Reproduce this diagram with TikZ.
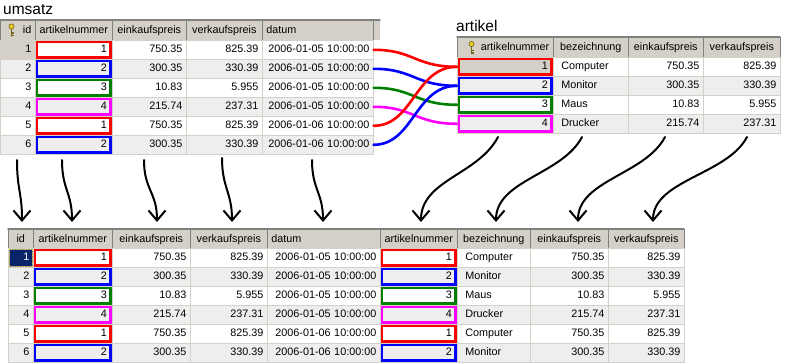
\documentclass[tikz,border=0pt]{standalone}
\usepackage{fontspec}
\setmainfont{Liberation Sans}
\usetikzlibrary{arrows.meta}

\definecolor{hdrgray}{RGB}{212,208,200}
\definecolor{hdrdark}{RGB}{128,128,128}
\definecolor{gridgray}{RGB}{212,208,200}
\definecolor{rowgray}{RGB}{238,238,238}
\definecolor{selblue}{RGB}{10,36,106}
\definecolor{keyyellow}{RGB}{236,204,40}
\definecolor{keyolive}{RGB}{110,100,20}
\definecolor{k1}{RGB}{255,0,0}
\definecolor{k2}{RGB}{0,0,255}
\definecolor{k3}{RGB}{0,128,0}
\definecolor{k4}{RGB}{255,0,255}

\begin{document}
\begin{tikzpicture}[x=1pt,y=-1pt,line cap=round,line join=round,
  every node/.style={inner sep=0pt,font=\fontsize{10.8}{12}\selectfont},
  cell/.style={draw=gridgray,line width=0.6pt,anchor=north west,inner xsep=4pt,
    minimum height=19pt,text height=7.8pt,text depth=2pt,align=right},
  hcell/.style={cell,fill=hdrgray,draw=hdrdark,minimum height=20pt,align=center},
  kbox/.style={draw=#1,line width=2.8pt,line cap=butt,line join=miter},
  link/.style={draw=#1,line width=2.6pt},
  hand/.style={line width=2pt,-{Straight Barb[length=10pt,width=17pt]}},
  titel/.style={anchor=base west,font=\fontsize{15.5}{18}\selectfont}]
  \useasboundingbox (0,0) rectangle (785,364);

  % umsatz
  \node[titel] (t-u) at (3,14) {umsatz};
  \fill[hdrgray] (373,20) rectangle (380,40);
  \foreach \lab/\x/\w/\al [count=\c] in {%
    id/0/35/right,%
    artikelnummer/35/77/center,%
    einkaufspreis/112/74/center,%
    verkaufspreis/186/76/center,%
    datum/262/111/left%
  } {
    \pgfmathsetmacro\tw{\w-8}
    \node[hcell,text width=\tw pt,align=\al] (u-h\c) at (\x,20) {\lab};
  }
  \foreach \nr/\ek/\vk/\dt [count=\r] in {%
    1/750.35/825.39/2006-01-05 10:00:00,%
    2/300.35/330.39/2006-01-05 10:00:00,%
    3/10.83/5.955/2006-01-05 10:00:00,%
    4/215.74/237.31/2006-01-05 10:00:00,%
    1/750.35/825.39/2006-01-06 10:00:00,%
    2/300.35/330.39/2006-01-06 10:00:00%
  } {
    \pgfmathsetmacro\y{40+19*(\r-1)}
    \ifodd\r \def\bg{white}\else\def\bg{rowgray}\fi
    \ifnum\r=1 \def\bgid{hdrgray}\else\let\bgid\bg\fi
    \node[cell,fill=\bgid,text width=27pt] (u\r-id) at (0,\y) {\r};
    \node[cell,fill=\bg,inner xsep=5.5pt,text width=66pt] (u\r-nr) at (35,\y) {\nr};
    \draw[kbox=k\nr] ([shift={(2,2)}]u\r-nr.north west) rectangle ([shift={(-2,-2)}]u\r-nr.south east);
    \node[cell,fill=\bg,text width=66pt] (u\r-ek) at (112,\y) {\ek};
    \node[cell,fill=\bg,text width=68pt] (u\r-vk) at (186,\y) {\vk};
    \node[cell,fill=\bg,text width=103pt] (u\r-dt) at (262,\y) {\dt};
  }
  \draw[hdrdark,line width=1.4pt] (0,20) -- (380,20);

  % artikel
  \node[titel] (t-a) at (456,31) {artikel};
  \foreach \lab/\x/\w/\al [count=\c] in {%
    artikelnummer/457/96/right,%
    bezeichnung/553/75/center,%
    einkaufspreis/628/75/center,%
    verkaufspreis/703/77/center%
  } {
    \pgfmathsetmacro\tw{\w-8}
    \node[hcell,text width=\tw pt,align=\al] (a-h\c) at (\x,37) {\lab};
  }
  \foreach \bz/\ek/\vk [count=\r] in {%
    Computer/750.35/825.39,%
    Monitor/300.35/330.39,%
    Maus/10.83/5.955,%
    Drucker/215.74/237.31%
  } {
    \pgfmathsetmacro\y{57+19*(\r-1)}
    \ifodd\r \def\bg{white}\else\def\bg{rowgray}\fi
    \ifnum\r=1 \def\bgnr{hdrgray}\else\let\bgnr\bg\fi
    \node[cell,fill=\bgnr,inner xsep=5.5pt,text width=85pt] (a\r-nr) at (457,\y) {\r};
    \draw[kbox=k\r] ([shift={(2,2)}]a\r-nr.north west) rectangle ([shift={(-2,-2)}]a\r-nr.south east);
    \node[cell,fill=\bg,inner xsep=8pt,text width=59pt,align=left] (a\r-bz) at (553,\y) {\bz};
    \node[cell,fill=\bg,text width=67pt] (a\r-ek) at (628,\y) {\ek};
    \node[cell,fill=\bg,text width=69pt] (a\r-vk) at (703,\y) {\vk};
  }
  \draw[hdrdark,line width=1.4pt] (457,37) -- (780,37);

  % ergebnis
  \foreach \lab/\x/\w/\al [count=\c] in {%
    id/8/25/center,%
    artikelnummer/33/79/center,%
    einkaufspreis/112/78/center,%
    verkaufspreis/190/77/center,%
    datum/267/113/left,%
    artikelnummer/380/77/center,%
    bezeichnung/457/73/center,%
    einkaufspreis/530/78/center,%
    verkaufspreis/608/76/center%
  } {
    \pgfmathsetmacro\tw{\w-8}
    \node[hcell,text width=\tw pt,align=\al] (b-h\c) at (\x,229) {\lab};
  }
  \foreach \nr/\ek/\vk/\dt/\bz [count=\r] in {%
    1/750.35/825.39/2006-01-05 10:00:00/Computer,%
    2/300.35/330.39/2006-01-05 10:00:00/Monitor,%
    3/10.83/5.955/2006-01-05 10:00:00/Maus,%
    4/215.74/237.31/2006-01-05 10:00:00/Drucker,%
    1/750.35/825.39/2006-01-06 10:00:00/Computer,%
    2/300.35/330.39/2006-01-06 10:00:00/Monitor%
  } {
    \pgfmathsetmacro\y{248+19*(\r-1)}
    \ifodd\r \def\bg{white}\else\def\bg{rowgray}\fi
    \ifnum\r=1 \def\bgid{selblue}\def\fgid{white}\else\let\bgid\bg\def\fgid{black}\fi
    \node[cell,fill=\bgid,text=\fgid,text width=17pt] (b\r-id) at (8,\y) {\r};
    \node[cell,fill=\bg,inner xsep=5.5pt,text width=68pt] (b\r-nr) at (33,\y) {\nr};
    \draw[kbox=k\nr] ([shift={(2,2)}]b\r-nr.north west) rectangle ([shift={(-2,-2)}]b\r-nr.south east);
    \node[cell,fill=\bg,text width=70pt] (b\r-ek) at (112,\y) {\ek};
    \node[cell,fill=\bg,text width=69pt] (b\r-vk) at (190,\y) {\vk};
    \node[cell,fill=\bg,text width=105pt] (b\r-dt) at (267,\y) {\dt};
    \node[cell,fill=\bg,inner xsep=5.5pt,text width=66pt] (b\r-nr2) at (380,\y) {\nr};
    \draw[kbox=k\nr] ([shift={(2,2)}]b\r-nr2.north west) rectangle ([shift={(-2,-2)}]b\r-nr2.south east);
    \node[cell,fill=\bg,inner xsep=8pt,text width=57pt,align=left] (b\r-bz) at (457,\y) {\bz};
    \node[cell,fill=\bg,text width=70pt] (b\r-ek2) at (530,\y) {\ek};
    \node[cell,fill=\bg,text width=68pt] (b\r-vk2) at (608,\y) {\vk};
  }
  \draw[keyyellow!70,line width=0.6pt,densely dotted] ([shift={(1.2,1.2)}]b1-id.north west) rectangle ([shift={(-1.2,-1.2)}]b1-id.south east);
  \draw[hdrdark,line width=1.4pt] (8,229) -- (684,229);

  % schluessel
  \foreach \kx/\ky in {11.5/26.5,471.5/44} {
    \draw[keyolive,line width=1.1pt] (\kx,\ky+2.5) -- (\kx,\ky+9.5)
      (\kx,\ky+6.5) -- (\kx+2,\ky+6.5) (\kx,\ky+9) -- (\kx+2,\ky+9);
    \draw[keyolive,fill=keyyellow,line width=0.6pt] (\kx,\ky) circle[radius=2.6pt];
  }

  % verbindungen
  \foreach \r/\k in {1/1,2/2,3/3,4/4,5/1,6/2} {
    \draw[link=k\k] (u\r-dt.east) .. controls +(40,0) and +(-42,0) .. (a\k-nr.west);
  }

  % pfeile
  \foreach \sx/\sy/\ex [count=\i] in {17/160/22,62/160/72,144/160/157,222/158/232,312/160/323} {
    \coordinate (s\i) at (\sx,\sy);
    \coordinate (e\i) at (\ex,222);
    \draw[hand] (s\i) .. controls +(0,30) and +(0,-30) .. (e\i);
  }
  \foreach \sx/\ex [count=\i] in {498/421,582/496,665/578,747/653} {
    \coordinate (p\i) at (\sx,137);
    \coordinate (q\i) at (\ex,222);
    \draw[hand] (p\i) .. controls +(-20,38) and +(0,-42) .. (q\i);
  }
\end{tikzpicture}
\end{document}
